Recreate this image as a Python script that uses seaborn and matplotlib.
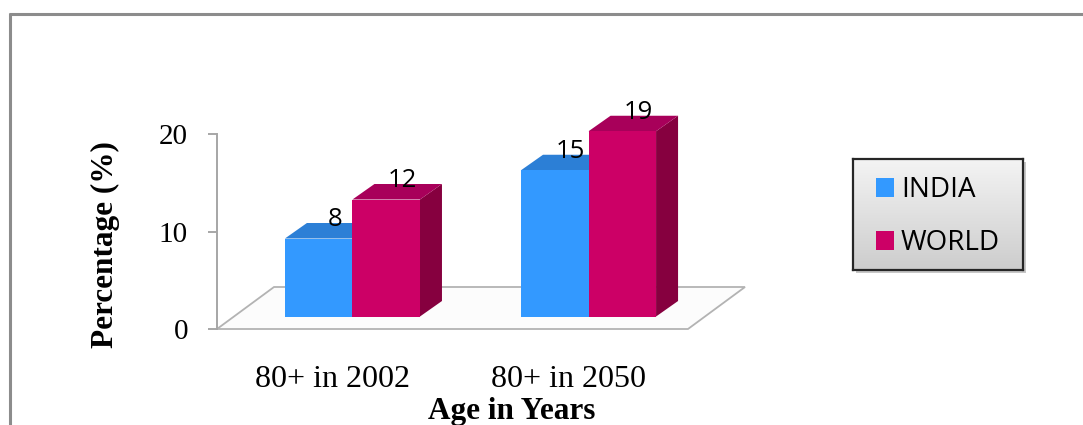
import numpy as np
import pandas as pd
import matplotlib
matplotlib.use("Agg")
import matplotlib.pyplot as plt
import matplotlib.transforms as mtransforms
from matplotlib.patches import Polygon, Rectangle
from matplotlib.lines import Line2D
from matplotlib.colors import LinearSegmentedColormap
import seaborn as sns

# ---------------- data ----------------
categories = ["80+ in 2002", "80+ in 2050"]
series_names = ["INDIA", "WORLD"]
india_values = [8, 15]
world_values = [12, 19]
y_ticks = [0, 10, 20]
x_title = "Age in Years"
y_title = "Percentage (%)"

# ---------------- style ----------------
W, H, DPI = 1083, 425, 100
front_colors = ["#3399FF", "#CC0066"]
top_colors = ["#2C7FD6", "#A8005A"]
side_colors = ["#1F66B3", "#86003F"]
SERIF = ["Liberation Serif", "DejaVu Serif"]
SANS = ["Open Sans", "DejaVu Sans"]

sns.set_theme(style="white")
plt.rcParams["font.family"] = SERIF
plt.rcParams["text.color"] = "black"

df = pd.DataFrame({
    "Age": categories * 2,
    "Region": [series_names[0]] * len(categories) + [series_names[1]] * len(categories),
    "Value": india_values + world_values,
})

fig = plt.figure(figsize=(W / DPI, H / DPI), dpi=DPI)
fig.patch.set_facecolor("white")


def px(x0, y0, w, h):
    """pixel box (top-left origin) -> figure fraction rect"""
    return [x0 / W, 1 - (y0 + h) / H, w / W, h / H]


def to_fig(tr, pts):
    disp = tr.transform(pts)
    return fig.transFigure.inverted().transform(disp)


# outer frame (gray lines, left and top)
fig.add_artist(Line2D([9.5 / W, 9.5 / W], [0, 1 - 13 / H], color="#8c8c8c", lw=2.2,
                      transform=fig.transFigure, solid_capstyle="butt"))
fig.add_artist(Line2D([8.5 / W, 1], [1 - 13.5 / H, 1 - 13.5 / H], color="#8c8c8c", lw=2.2,
                      transform=fig.transFigure, solid_capstyle="butt"))

ax = fig.add_axes(px(217, 134, 471, 195))
ax.set_facecolor("none")

sns.barplot(data=df, x="Age", y="Value", hue="Region", order=categories,
            hue_order=series_names, palette=front_colors, saturation=1,
            width=0.572, edgecolor="none", linewidth=0, ax=ax, zorder=3)

ax.set_xlim(-0.489, 1.506)
ax.set_ylim(0, 20)

# 3-D projection helpers (pixel offsets)
shift = mtransforms.ScaledTranslation(20 / DPI, 12.5 / DPI, fig.dpi_scale_trans)
depth = mtransforms.ScaledTranslation(22 / DPI, 15.5 / DPI, fig.dpi_scale_trans)
front_tr = ax.transData + shift
back_tr = front_tr + depth

# floor
floor_off = mtransforms.ScaledTranslation(57 / DPI, 42 / DPI, fig.dpi_scale_trans)
f_front = to_fig(ax.transAxes, [(0, 0), (1, 0)])
f_back = to_fig(ax.transAxes + floor_off, [(1, 0), (0, 0)])
floor = Polygon(np.vstack([f_front, f_back]), closed=True, transform=fig.transFigure,
                facecolor="#fcfcfc", edgecolor="#b3b3b3", lw=1.3, zorder=1)
ax.add_patch(floor)
floor.set_clip_on(False)

# bars: shift front faces, add tops and sides
for ci, cont in enumerate(ax.containers):
    for rect, val in zip(cont.patches, [india_values, world_values][ci]):
        rect.set_transform(front_tr)
        rect.set_clip_on(False)
        x0 = rect.get_x()
        x1 = x0 + rect.get_width()
        h = rect.get_height()
        side = np.vstack([to_fig(front_tr, [(x1, 0), (x1, h)]),
                          to_fig(back_tr, [(x1, h), (x1, 0)])])
        top = np.vstack([to_fig(front_tr, [(x0, h), (x1, h)]),
                         to_fig(back_tr, [(x1, h), (x0, h)])])
        for verts, col in ((side, side_colors[ci]), (top, top_colors[ci])):
            p = Polygon(verts, closed=True, transform=fig.transFigure,
                        facecolor=col, edgecolor="none", zorder=2)
            ax.add_patch(p)
            p.set_clip_on(False)
        ax.annotate(f"{val:g}", xy=((x0 + x1) / 2, h), xycoords=front_tr,
                    xytext=(16 * 72 / DPI, 19 * 72 / DPI), textcoords="offset points",
                    ha="center", va="center", fontsize=18.5, family=SANS,
                    color="black", zorder=6, annotation_clip=False)

# axes styling
for s in ["top", "right", "bottom"]:
    ax.spines[s].set_visible(False)
ax.spines["left"].set_color("#a6a6a6")
ax.spines["left"].set_linewidth(1.4)
ax.set_yticks(y_ticks)
ax.set_yticklabels([str(t) for t in y_ticks])
ax.tick_params(axis="y", left=True, length=6.5, width=1.3, color="#a0a0a0",
               pad=14.4, labelsize=21, labelcolor="black")
ax.tick_params(axis="x", bottom=False, length=0, pad=26, labelsize=23, labelcolor="black")
for lab in ax.get_xticklabels() + ax.get_yticklabels():
    lab.set_family(SERIF)
ax.set_xlabel("")
ax.set_ylabel("")
ax.grid(False)

fig.text(512 / W, 1 - 419 / H, x_title, ha="center", va="baseline",
         fontsize=22.5, fontweight="bold", family=SERIF, color="black")
fig.text(105 / W, 1 - 245 / H, y_title, ha="center", va="center", rotation=90,
         fontsize=22.5, fontweight="bold", family=SERIF, color="black")

# legend box with gradient
handles, labels = ax.get_legend_handles_labels()
if ax.get_legend() is not None:
    ax.get_legend().remove()

shadow = Rectangle((856 / W, 1 - 273 / H), 170 / W, 111 / H, transform=fig.transFigure,
                   facecolor="#9a9a9a", edgecolor="none", alpha=0.55, zorder=4)
fig.add_artist(shadow)
lax = fig.add_axes(px(853, 159, 170, 111), zorder=5)
cmap = LinearSegmentedColormap.from_list("g", ["#f4f4f4", "#cdcdcd"])
lax.imshow(np.linspace(0, 1, 256).reshape(-1, 1), cmap=cmap, aspect="auto",
           extent=[0, 1, 0, 1])
lax.set_xticks([])
lax.set_yticks([])
for s in lax.spines.values():
    s.set_visible(True)
    s.set_color("#262626")
    s.set_linewidth(1.6)
for hnd in handles:
    hnd.set_edgecolor("none")
leg = lax.legend(handles, labels, loc="upper left", bbox_to_anchor=(23 / 170, 1 - 17 / 111),
                 frameon=False, borderpad=0, borderaxespad=0, handlelength=0.65,
                 handleheight=0.65, handletextpad=0.25, labelspacing=0.9,
                 prop={"family": SANS, "size": 20}, labelcolor="black")

fig.savefig("out.png", dpi=DPI, facecolor="white")
